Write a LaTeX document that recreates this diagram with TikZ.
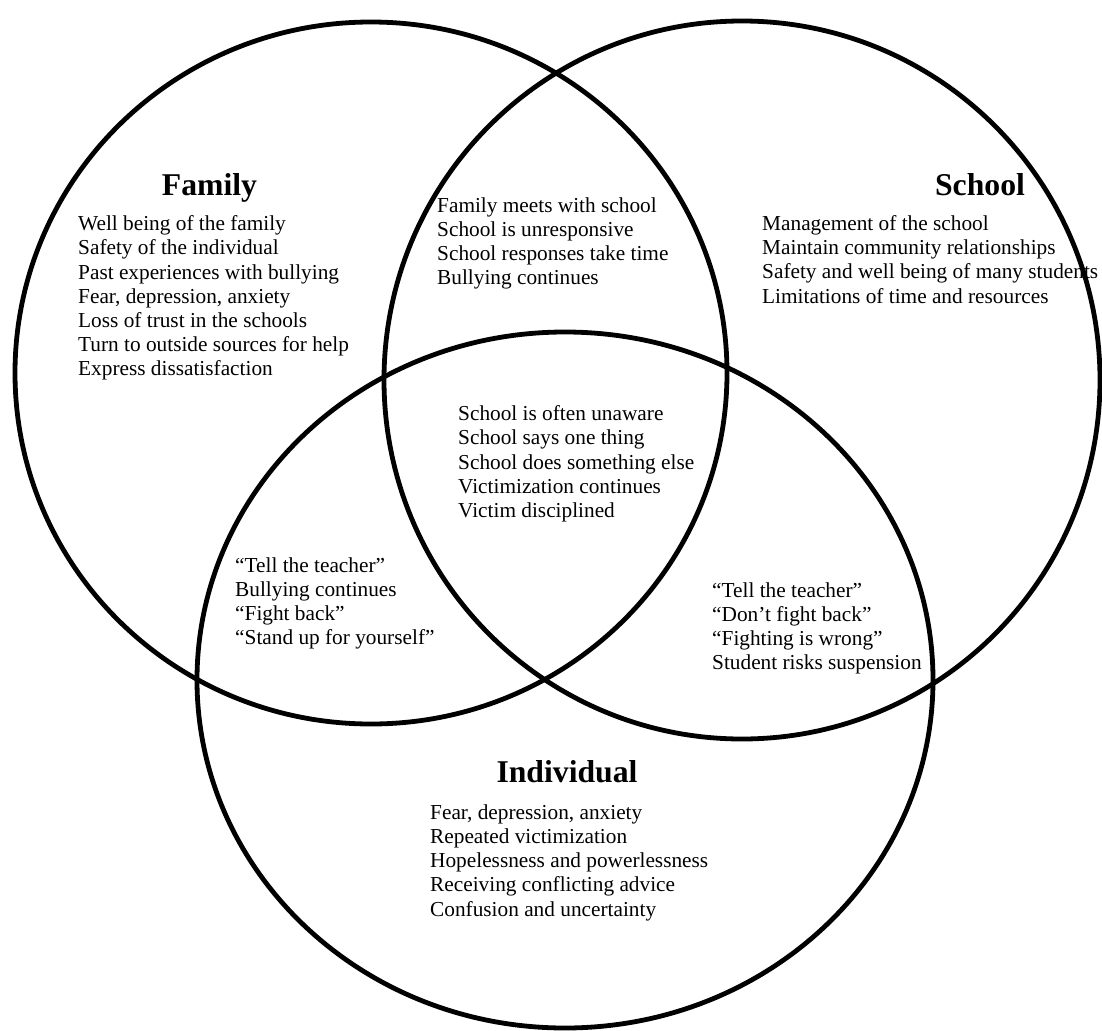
\documentclass[tikz,border=0pt]{standalone}
\usepackage{fontspec}
\setmainfont{Liberation Serif}

\begin{document}
\begin{tikzpicture}[x=1pt,y=-1pt,every node/.style={font=\fontsize{21.3}{24.2}\selectfont,align=left,inner sep=0pt},head/.style={font=\fontsize{31.7}{36}\selectfont\bfseries,anchor=base},items/.style={anchor=north west},ring/.style={line width=4.8pt}]
\useasboundingbox (0,0) rectangle (1102,1030);
% the three sets
\draw[ring] (371,373) ellipse [x radius=356,y radius=351];
\draw[ring] (742,380) ellipse [x radius=358,y radius=359];
\draw[ring] (565,680) ellipse [x radius=368,y radius=348];
% family only
\node[head] (family) at (209.5,195) {Family};
\node[items] (familylist) at (78,215.4) {Well being of the family\\Safety of the individual\\Past experiences with bullying\\Fear, depression, anxiety\\Loss of trust in the schools\\Turn to outside sources for help\\Express dissatisfaction};
% school only
\node[head] (school) at (980,195) {School};
\node[items] (schoollist) at (762,215.4) {Management of the school\\Maintain community relationships\\Safety and well being of many students\\Limitations of time and resources};
% overlaps
\node[items] (famschool) at (437,197.4) {Family meets with school\\School is unresponsive\\School responses take time\\Bullying continues};
\node[items] (allthree) at (458,405.4) {School is often unaware\\School says one thing\\School does something else\\Victimization continues\\Victim disciplined};
\node[items] (famind) at (235,557.4) {“Tell the teacher”\\Bullying continues\\“Fight back”\\“Stand up for yourself”};
\node[items] (schoolind) at (712,582.4) {“Tell the teacher”\\“Don’t fight back”\\“Fighting is wrong”\\Student risks suspension};
% individual only
\node[head] (individual) at (567,782) {Individual};
\node[items] (individuallist) at (430,804.4) {Fear, depression, anxiety\\Repeated victimization\\Hopelessness and powerlessness\\Receiving conflicting advice\\Confusion and uncertainty};
\end{tikzpicture}
\end{document}
